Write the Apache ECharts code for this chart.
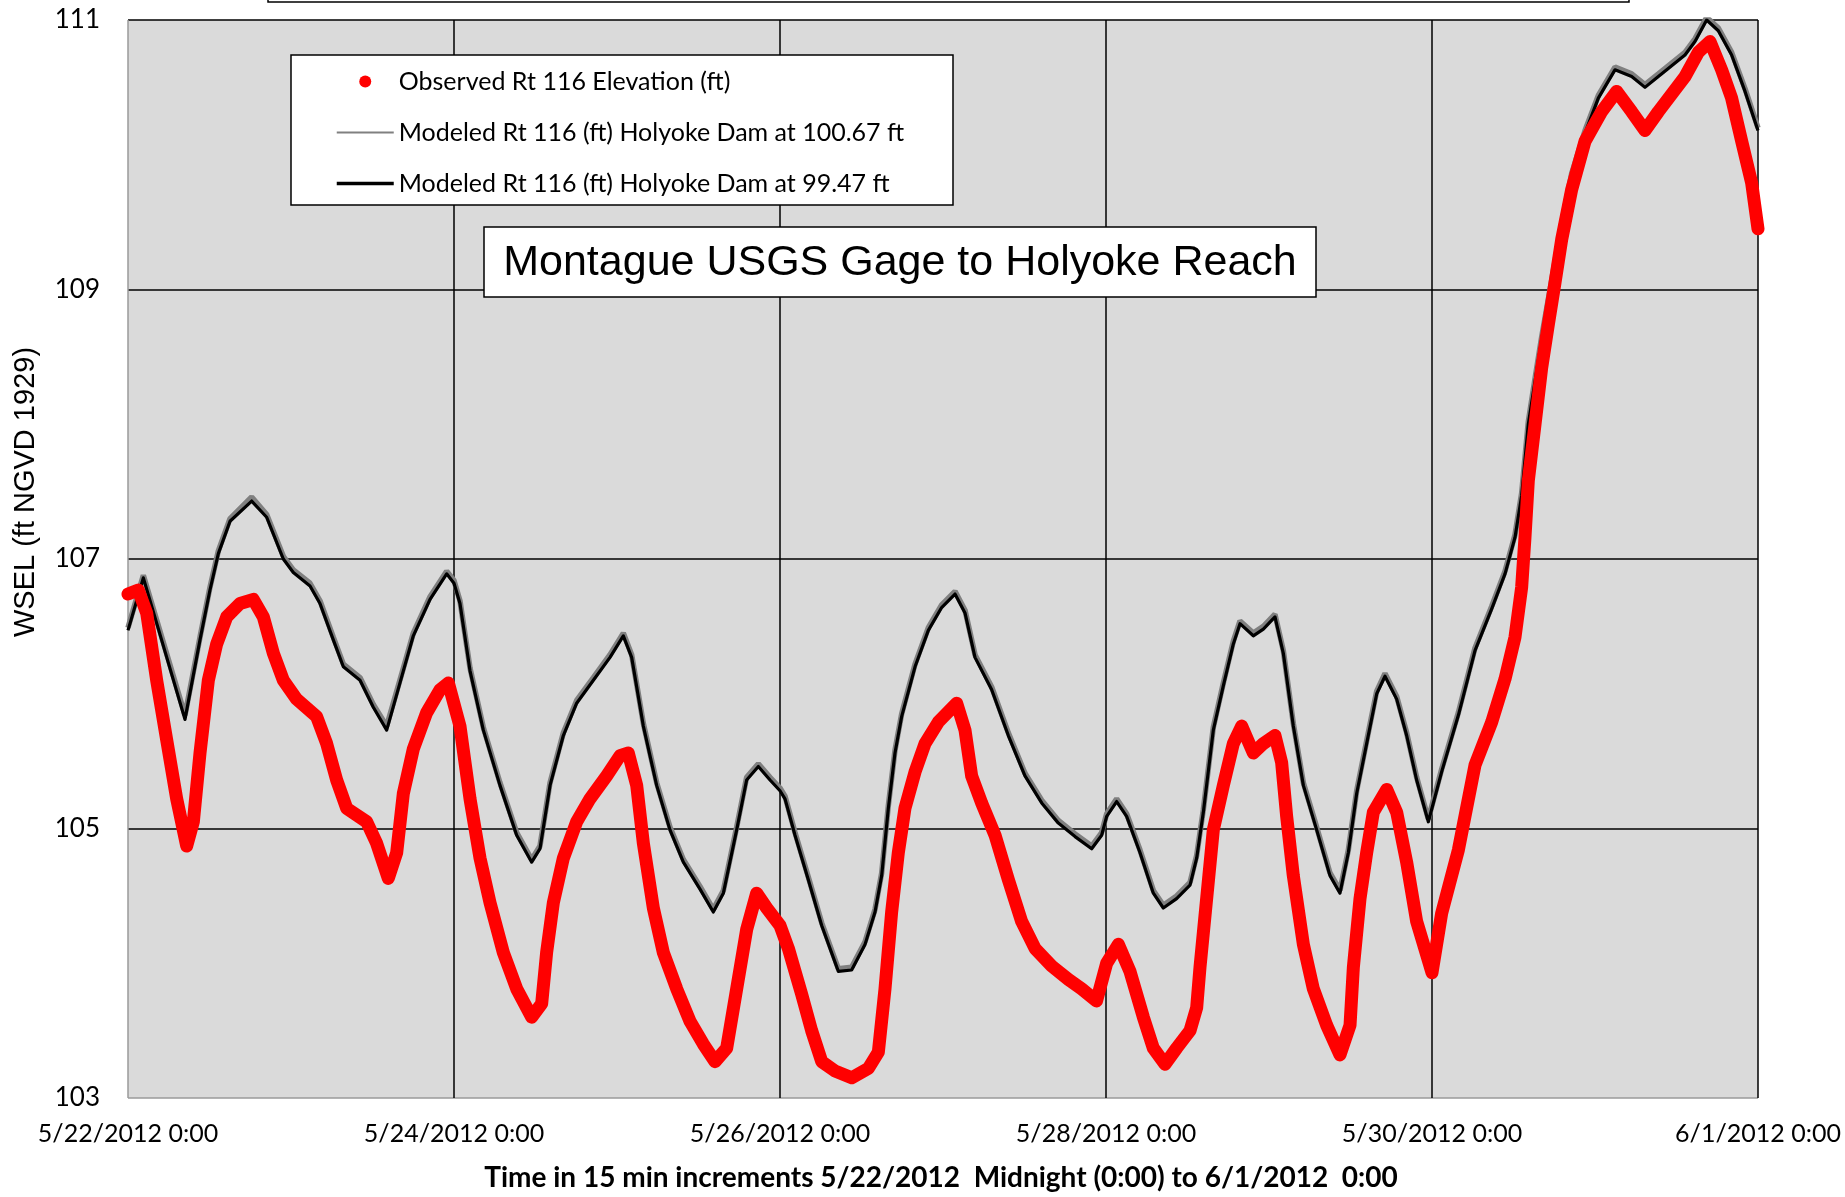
<!DOCTYPE html>
<html>
<head>
<meta charset="utf-8">
<script src="https://cdn.jsdelivr.net/npm/echarts@6/dist/echarts.min.js"></script>
<style>
  html, body { margin: 0; background: #fff; }
  #chart { width: 1845px; height: 1197px; }
</style>
</head>
<body>
<div id="chart"></div>
<script>
// x tick labels, one every 48 h
const xTickLabels = ['5/22/2012 0:00', '5/24/2012 0:00', '5/26/2012 0:00', '5/28/2012 0:00', '5/30/2012 0:00', '6/1/2012 0:00']

const obsName = 'Observed Rt 116 Elevation (ft)'
const highName = 'Modeled Rt 116 (ft) Holyoke Dam at 100.67 ft'
const lowName = 'Modeled Rt 116 (ft) Holyoke Dam at 99.47 ft'

// hours since 5/22/2012 0:00
const modelHours = [0, 2.26, 8.39, 10.6, 12.07, 13.3, 15.02, 18.21, 20.42, 22.87, 24.34, 26.8, 28.27, 30.23, 31.71, 34.16, 36.12, 38.09, 40.54, 42.01, 44.47, 46.92, 48, 48.88, 50.36, 52.32, 54.77, 57.23, 59.44, 60.66, 62.14, 64.1, 66.06, 68.52, 70.97, 72.93, 74.16, 75.88, 77.84, 79.8, 81.77, 84.22, 86.18, 87.66, 89.62, 91.09, 92.81, 94.53, 96, 96.74, 98.21, 100.17, 102.14, 104.59, 106.55, 108.52, 109.99, 110.97, 111.95, 112.93, 113.91, 115.88, 117.84, 119.8, 121.77, 123.24, 124.71, 127.17, 129.62, 132.07, 134.53, 136.98, 139.44, 141.89, 143.36, 144.1, 145.57, 147.04, 149.01, 150.97, 152.44, 154.4, 156.37, 157.35, 158.33, 159.8, 161.28, 162.75, 163.73, 165.69, 167.17, 168.88, 170.11, 171.58, 173.06, 175.02, 176.98, 178.45, 179.68, 180.91, 182.38, 183.86, 185.08, 186.8, 188.27, 189.74, 191.46, 193.42, 195.88, 198.33, 200.79, 202.75, 204.22, 205.2, 206.18, 207.17, 208.15, 209.62, 211.09, 212.56, 214.53, 216.49, 218.94, 221.4, 223.36, 225.33, 227.29, 229.25, 230.72, 232.44, 234.16, 236.12, 238.09, 240]

// Holyoke Dam at 99.47 ft (black)
const modelLowValues = [106.47, 106.86, 105.81, 106.4, 106.77, 107.04, 107.28, 107.43, 107.31, 107.0, 106.9, 106.8, 106.67, 106.4, 106.2, 106.1, 105.9, 105.73, 106.17, 106.43, 106.7, 106.89, 106.82, 106.67, 106.17, 105.73, 105.32, 104.95, 104.75, 104.85, 105.32, 105.69, 105.93, 106.1, 106.27, 106.43, 106.27, 105.76, 105.32, 104.99, 104.75, 104.55, 104.38, 104.52, 104.99, 105.36, 105.46, 105.36, 105.28, 105.22, 104.95, 104.62, 104.28, 103.94, 103.95, 104.14, 104.38, 104.65, 105.15, 105.56, 105.83, 106.2, 106.47, 106.64, 106.74, 106.6, 106.27, 106.03, 105.69, 105.39, 105.19, 105.04, 104.94, 104.85, 104.95, 105.09, 105.2, 105.09, 104.82, 104.52, 104.41, 104.48, 104.58, 104.78, 105.12, 105.73, 106.06, 106.37, 106.52, 106.43, 106.48, 106.57, 106.3, 105.76, 105.32, 104.99, 104.65, 104.52, 104.82, 105.26, 105.63, 106.0, 106.13, 105.96, 105.69, 105.36, 105.05, 105.42, 105.84, 106.32, 106.63, 106.89, 107.16, 107.47, 108.0, 108.32, 108.63, 109.05, 109.47, 109.84, 110.16, 110.42, 110.63, 110.58, 110.5, 110.58, 110.66, 110.74, 110.84, 111.0, 110.92, 110.74, 110.47, 110.18]

// Holyoke Dam at 100.67 ft (grey, almost on top of the black one)
const modelHighValues = [106.49, 106.88, 105.84, 106.42, 106.79, 107.06, 107.3, 107.46, 107.33, 107.02, 106.92, 106.82, 106.69, 106.42, 106.22, 106.12, 105.92, 105.76, 106.19, 106.45, 106.72, 106.91, 106.84, 106.69, 106.19, 105.75, 105.34, 104.97, 104.77, 104.87, 105.34, 105.71, 105.95, 106.12, 106.29, 106.45, 106.29, 105.78, 105.34, 105.01, 104.77, 104.57, 104.4, 104.54, 105.01, 105.38, 105.48, 105.38, 105.3, 105.24, 104.97, 104.64, 104.3, 103.96, 103.97, 104.16, 104.4, 104.67, 105.17, 105.58, 105.85, 106.22, 106.49, 106.66, 106.76, 106.62, 106.29, 106.05, 105.71, 105.41, 105.21, 105.06, 104.96, 104.87, 104.97, 105.11, 105.22, 105.11, 104.84, 104.54, 104.43, 104.5, 104.6, 104.8, 105.14, 105.75, 106.08, 106.39, 106.54, 106.45, 106.5, 106.59, 106.32, 105.78, 105.34, 105.01, 104.67, 104.54, 104.84, 105.28, 105.65, 106.02, 106.15, 105.98, 105.71, 105.38, 105.07, 105.44, 105.86, 106.34, 106.65, 106.91, 107.18, 107.49, 108.02, 108.34, 108.65, 109.07, 109.49, 109.86, 110.18, 110.44, 110.65, 110.6, 110.52, 110.6, 110.68, 110.76, 110.86, 111.02, 110.94, 110.76, 110.49, 110.2]

// observed elevation at Rt 116
const obsHours = [0, 1.52, 2.75, 4.22, 5.69, 7.17, 8.64, 9.62, 10.6, 11.83, 13.06, 14.53, 16.49, 18.45, 19.93, 21.4, 22.87, 24.83, 27.78, 29.25, 30.72, 32.2, 35.14, 36.61, 38.33, 39.56, 40.54, 42.01, 43.98, 45.94, 47.17, 48.88, 50.36, 51.83, 53.3, 55.26, 57.23, 59.44, 60.91, 61.64, 62.63, 64.1, 66.06, 68.02, 70.48, 72.44, 73.67, 74.9, 75.88, 77.35, 78.82, 80.79, 82.75, 84.71, 86.43, 88.15, 89.62, 91.09, 92.56, 94.04, 96, 97.23, 99.19, 100.66, 102.14, 104.1, 106.55, 109.01, 110.48, 111.46, 112.44, 113.42, 114.4, 115.88, 117.35, 119.31, 122.01, 123.24, 124.22, 125.69, 127.66, 129.62, 131.58, 133.55, 136, 138.45, 140.42, 142.6, 144.1, 145.82, 147.53, 149.5, 150.97, 152.69, 154.4, 156.37, 157.35, 157.84, 158.82, 159.8, 161.28, 162.75, 163.98, 165.69, 167.17, 168.88, 169.86, 170.6, 171.58, 173.06, 174.53, 176.49, 178.45, 179.93, 180.42, 181.4, 182.38, 183.36, 185.33, 186.8, 188.27, 189.74, 192, 193.42, 195.88, 198.33, 200.79, 202.75, 204.22, 205.2, 205.69, 206.18, 207.17, 208.15, 209.13, 210.11, 211.09, 212.56, 214.53, 216.98, 219.19, 221.4, 223.36, 225.33, 227.29, 229.25, 231.21, 232.93, 234.65, 236.12, 237.6, 239.07, 240]
const obsValues = [106.74, 106.77, 106.6, 106.1, 105.66, 105.22, 104.87, 105.05, 105.56, 106.1, 106.37, 106.57, 106.67, 106.7, 106.57, 106.3, 106.1, 105.96, 105.83, 105.63, 105.36, 105.15, 105.05, 104.89, 104.63, 104.82, 105.26, 105.59, 105.86, 106.03, 106.08, 105.76, 105.22, 104.78, 104.45, 104.08, 103.81, 103.6, 103.7, 104.08, 104.45, 104.78, 105.05, 105.22, 105.39, 105.54, 105.56, 105.32, 104.89, 104.41, 104.08, 103.81, 103.57, 103.4, 103.27, 103.37, 103.81, 104.25, 104.52, 104.41, 104.28, 104.11, 103.77, 103.5, 103.27, 103.2, 103.15, 103.22, 103.34, 103.81, 104.38, 104.82, 105.15, 105.42, 105.63, 105.79, 105.93, 105.73, 105.39, 105.19, 104.95, 104.62, 104.31, 104.11, 103.98, 103.88, 103.81, 103.72, 104.0, 104.14, 103.94, 103.6, 103.37, 103.25, 103.37, 103.5, 103.67, 103.97, 104.48, 104.99, 105.32, 105.63, 105.76, 105.56, 105.63, 105.69, 105.49, 105.09, 104.65, 104.14, 103.81, 103.54, 103.32, 103.54, 103.97, 104.48, 104.82, 105.12, 105.29, 105.12, 104.75, 104.31, 103.93, 104.37, 104.84, 105.47, 105.79, 106.11, 106.42, 106.79, 107.16, 107.58, 108.0, 108.42, 108.74, 109.05, 109.37, 109.74, 110.1, 110.32, 110.47, 110.32, 110.18, 110.32, 110.45, 110.58, 110.76, 110.84, 110.63, 110.42, 110.1, 109.79, 109.45]

const pairs = (xs, ys) => xs.map((x, i) => [x, ys[i]])
const clear = 'rgba(0,0,0,0)'

const chart = echarts.init(document.getElementById('chart'))
chart.setOption({
  animation: false,
  backgroundColor: '#fff',
  grid: {
    left: 128,
    right: 87,
    top: 20,
    bottom: 99,
    show: true,
    backgroundColor: '#dadada',
    borderWidth: 0
  },
  legend: {
    orient: 'vertical',
    left: 330,
    top: 64,
    itemWidth: 57,
    itemHeight: 12,
    itemGap: 26,
    z: 10,
    textStyle: { fontFamily: 'Lato', fontSize: 25, lineHeight: 22, color: '#000' },
    data: [
      { name: obsName, icon: 'circle' },
      { name: highName, itemStyle: { color: clear, borderWidth: 0, opacity: 0 }, lineStyle: { width: 2, color: '#808080' } },
      { name: lowName, itemStyle: { color: clear, borderWidth: 0, opacity: 0 }, lineStyle: { width: 3.5, color: '#000' } }
    ]
  },
  xAxis: {
    type: 'value',
    min: 0,
    max: 240,
    interval: 48,
    axisLine: { show: false },
    axisTick: { show: false },
    axisLabel: {
      formatter: v => xTickLabels[Math.round(v / 48)],
      fontFamily: 'Lato',
      fontSize: 25,
      color: '#000',
      margin: 23
    },
    splitLine: {
      show: true,
      lineStyle: { color: ['#9a9a9a', '#000', '#000', '#000', '#000', '#000'], width: 1.5 }
    }
  },
  yAxis: {
    type: 'value',
    min: 103,
    max: 111,
    interval: 1,
    axisLine: { show: false },
    axisTick: { show: false },
    axisLabel: {
      formatter: v => ((v - 103) % 2 === 0 ? String(v) : ''),
      fontFamily: 'Lato',
      fontSize: 26,
      color: '#000',
      margin: 28
    },
    splitLine: {
      show: true,
      lineStyle: { color: ['#9a9a9a', clear, '#000', clear, '#000', clear, '#000', clear, '#000'], width: 1.5 }
    }
  },
  series: [
    {
      name: highName,
      type: 'line',
      showSymbol: false,
      symbol: 'none',
      z: 2,
      itemStyle: { color: '#808080' },
      lineStyle: { color: '#808080', width: 5.5 },
      data: pairs(modelHours, modelHighValues)
    },
    {
      name: lowName,
      type: 'line',
      showSymbol: false,
      symbol: 'none',
      z: 3,
      itemStyle: { color: '#000' },
      lineStyle: { color: '#000', width: 3.2, join: 'round' },
      data: pairs(modelHours, modelLowValues)
    },
    {
      name: obsName,
      type: 'line',
      showSymbol: false,
      symbol: 'none',
      z: 4,
      itemStyle: { color: '#ff0000' },
      lineStyle: { color: '#ff0000', width: 13, cap: 'round', join: 'round' },
      data: pairs(obsHours, obsValues)
    }
  ],
  graphic: [
    // title box, cut off at the top of the picture
    { type: 'rect', z: 5, shape: { x: 268, y: -30, width: 1361, height: 32 }, style: { fill: '#fff', stroke: '#000', lineWidth: 1.5 } },
    // legend frame
    { type: 'rect', z: 5, shape: { x: 291, y: 55, width: 662, height: 150 }, style: { fill: '#fff', stroke: '#000', lineWidth: 1.5 } },
    // reach label
    { type: 'rect', z: 5, shape: { x: 484, y: 227, width: 832, height: 70 }, style: { fill: '#fff', stroke: '#000', lineWidth: 1.5 } },
    {
      type: 'text', z: 6, x: 900, y: 263,
      style: { text: 'Montague USGS Gage to Holyoke Reach', font: '43px "Liberation Sans", Arial, sans-serif', fill: '#000', align: 'center', verticalAlign: 'middle' }
    },
    {
      type: 'text', z: 6, x: 26, y: 492, rotation: Math.PI / 2,
      style: { text: 'WSEL (ft NGVD 1929)', font: '29px "Liberation Sans", Arial, sans-serif', fill: '#000', align: 'center', verticalAlign: 'middle' }
    },
    {
      type: 'text', z: 6, x: 941, y: 1178,
      style: { text: 'Time in 15 min increments 5/22/2012  Midnight (0:00) to 6/1/2012  0:00', font: 'bold 28px Lato, sans-serif', fill: '#000', align: 'center', verticalAlign: 'middle' }
    }
  ]
})
</script>
</body>
</html>
